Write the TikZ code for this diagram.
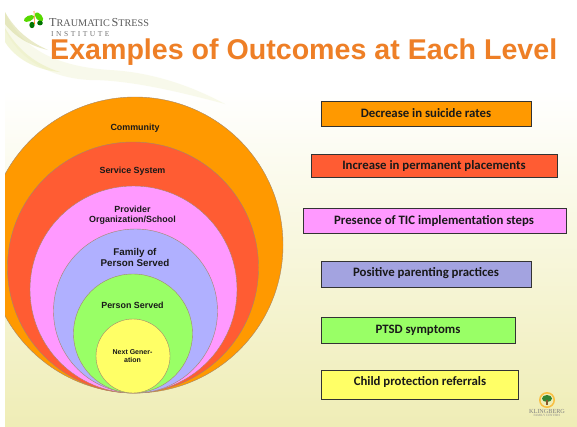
\documentclass[tikz,border=0pt]{standalone}
\usepackage{fontspec}
\setmainfont{Liberation Sans}
\newfontfamily\boxfont{Carlito}
\newfontfamily\logofont{Liberation Serif}
\definecolor{cOrange}{HTML}{FF9900}
\definecolor{cRed}{HTML}{FF5C33}
\definecolor{cPink}{HTML}{FF99FF}
\definecolor{cBlue}{HTML}{B0B0FF}
\definecolor{cBoxBlue}{HTML}{A3A3E0}
\definecolor{cGreen}{HTML}{99FF66}
\definecolor{cYellow}{HTML}{FFFF66}
\definecolor{cTitle}{HTML}{EE7F26}
\definecolor{cBack}{HTML}{EFEDB6}
\definecolor{cSwoosh}{HTML}{E9EDB8}
\tikzset{
  x=1pt,y=-1pt,
  ring/.style={circle,draw=black!35!brown!70,line width=0.4pt,inner sep=0,outer sep=0},
  ringtext/.style={font=\bfseries\fontsize{8.9}{9.6}\selectfont,align=center,text=black!90,inner sep=0},
  outbox/.style={draw=black!80,line width=0.9pt,inner sep=0,outer sep=0,anchor=north west},
  boxtext/.style={font=\boxfont\bfseries\fontsize{12.8}{14}\selectfont,text=black!90,inner sep=0},
}
\begin{document}
\begin{tikzpicture}
\useasboundingbox (0,0) rectangle (577,426);
\fill[white] (0,0) rectangle (577,426);
\shade[top color=white,bottom color=cBack] (5,90) rectangle (577,426);
% header swooshes
\fill[cSwoosh,opacity=.28] (5,12) .. controls (20,45) and (50,66) .. (110,70) .. controls (150,72) and (190,85) .. (225,104) .. controls (180,92) and (130,80) .. (90,80) .. controls (50,78) and (20,60) .. (5,30) -- cycle;
\fill[cSwoosh!80!olive,opacity=.5] (5,12) .. controls (15,30) and (30,42) .. (48,50) .. controls (30,46) and (14,36) .. (5,24) -- cycle;
\fill[cSwoosh,opacity=.55] (5,28) .. controls (18,50) and (35,64) .. (60,72) .. controls (35,70) and (15,58) .. (5,42) -- cycle;
% butterfly logo
\fill[green!60!yellow!85!black,rotate around={25:(29,18.5)}] (29,18.5) ellipse [x radius=5.5,y radius=2.8];
\fill[green!60!yellow!85!black,rotate around={-50:(39,17)}] (39,17) ellipse [x radius=5.5,y radius=3];
\fill[green!45!black] (32,25) ellipse [x radius=2.6,y radius=3.2];
\fill[green!45!black] (40,23) ellipse [x radius=2.8,y radius=2.4];
\draw[orange,line width=.6pt] (34.5,24) -- (34,11);
\node[inner sep=0,anchor=west,text=black!65,font=\logofont\fontsize{12.2}{13}\selectfont] (tsi) at (49,23) {T\fontsize{10.2}{11}\selectfont RAUMATIC\,\fontsize{12.2}{13}\selectfont S\fontsize{10.2}{11}\selectfont TRESS};
\node[inner sep=0,anchor=west,text=black!55,font=\logofont\fontsize{7.5}{8}\selectfont] (inst) at (51,34) {I\,\,N\,\,S\,\,T\,\,I\,\,T\,\,U\,\,T\,\,E};
\node[inner sep=0,anchor=west,text=cTitle,font=\bfseries\fontsize{28.6}{30}\selectfont] (title) at (50,52.5) {Examples of Outcomes at Each Level};
% nested circles
\begin{scope}
\clip (5,0) rectangle (577,426);
\node[ring,fill=cOrange,minimum size=296pt] (c1) at (135,245) {};
\end{scope}
\node[ring,fill=cRed,minimum size=251pt] (c2) at (133,267.5) {};
\node[ring,fill=cPink,minimum size=207pt] (c3) at (133.5,289.5) {};
\node[ring,fill=cBlue,minimum size=164pt] (c4) at (135.5,311) {};
\node[ring,fill=cGreen,minimum size=119pt] (c5) at (133,333.5) {};
\node[ring,fill=cYellow,minimum size=74pt] (c6) at (133,356) {};
\node[ringtext] (t1) at (135,128.5) {Community};
\node[ringtext] (t2) at (132.5,171.5) {Service System};
\node[ringtext] (t3) at (132.5,215) {Provider\\Organization/School};
\node[ringtext,font=\bfseries\fontsize{9.8}{10.2}\selectfont] (t4) at (135,257.5) {Family of\\Person Served};
\node[ringtext] (t5) at (132.5,305) {Person Served};
\node[ringtext,font=\bfseries\fontsize{7}{7.4}\selectfont] (t6) at (132.5,356) {Next Gener-\\ation};
% outcome boxes
\node[outbox,fill=cOrange,minimum width=210pt,minimum height=25pt] (b1) at (321,101) {};
\node[outbox,fill=cRed,minimum width=245.5pt,minimum height=23pt] (b2) at (311.5,154.5) {};
\node[outbox,fill=cPink,minimum width=263pt,minimum height=24.5pt] (b3) at (303,208.5) {};
\node[outbox,fill=cBoxBlue,minimum width=210pt,minimum height=26.5pt] (b4) at (321,261) {};
\node[outbox,fill=cGreen,minimum width=194.5pt,minimum height=26pt] (b5) at (321,317.5) {};
\node[outbox,fill=cYellow,minimum width=197.5pt,minimum height=29pt] (b6) at (321,370) {};
\node[boxtext] (x1) at (426,113) {Decrease in suicide rates};
\node[boxtext] (x2) at (434,166) {Increase in permanent placements};
\node[boxtext] (x3) at (434,221) {Presence of TIC implementation steps};
\node[boxtext] (x4) at (426,273) {Positive parenting practices};
\node[boxtext] (x5) at (418,330) {PTSD symptoms};
\node[boxtext] (x6) at (420,382) {Child protection referrals};
% Klingberg logo
\fill[orange!70!yellow,opacity=.65] (547,400) circle (8);
\fill[cBack] (547,400) circle (6.3);
\fill[green!40!black!80] (547,398.5) ellipse [x radius=5,y radius=3.5];
\fill[brown!70!black] (546.2,400) rectangle (547.8,405);
\node[inner sep=0,text=black!50,font=\logofont\fontsize{6.2}{6}\selectfont] (kl) at (547,411) {KLINGBERG};
\node[inner sep=0,text=black!45,font=\logofont\fontsize{3.2}{3.5}\selectfont] (kf) at (547,415.5) {FAMILY CENTERS};
\end{tikzpicture}
\end{document}
